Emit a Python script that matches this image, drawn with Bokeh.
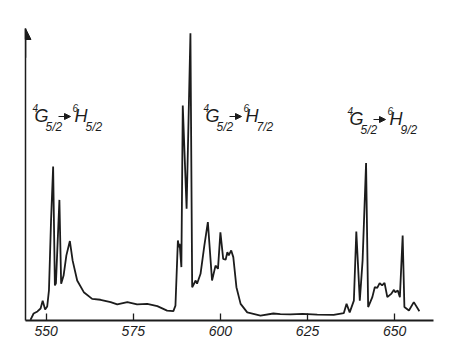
from bokeh.plotting import figure
from bokeh.models import Range1d, FixedTicker, Label, Arrow, NormalHead
from bokeh.embed import file_html
from bokeh.resources import INLINE

# ---- data (wavelength in nm, relative intensity) ----
wavelength_nm = [545.5, 546.4, 547.5, 548.4, 549.0, 549.7, 550.3, 550.8, 551.4, 552.0,
                 552.5, 552.8, 553.8, 554.3, 555.0, 555.8, 556.8, 557.6, 558.9, 560.8,
                 563.2, 565.6, 568.5, 570.4, 573.3, 576.1, 579.0, 581.9, 584.7, 586.5,
                 587.1, 587.8, 588.1, 588.3, 588.8, 589.2, 590.3, 591.4, 591.9, 592.9,
                 593.3, 594.3, 595.4, 596.4, 597.6, 598.6, 599.3, 600.0, 600.8, 601.5,
                 602.0, 602.4, 603.1, 603.7, 604.6, 605.8, 607.7, 611.5, 615.2, 617.2,
                 620.1, 623.6, 627.8, 632.5, 635.4, 636.2, 637.1, 638.3, 639.0, 640.0,
                 640.8, 641.8, 642.4, 643.6, 644.3, 645.0, 645.7, 646.4, 647.1, 647.9,
                 649.0, 649.8, 650.2, 650.9, 651.5, 652.3, 652.8, 654.1, 655.5, 657.1]
intensity = [0.2, 2.4, 3.1, 4.1, 6.8, 3.8, 4.8, 10.3, 34.2, 52.7,
             12.0, 12.7, 41.3, 12.6, 15.4, 22.3, 27.2, 20.5, 13.7, 9.7,
             7.4, 7.1, 6.3, 5.5, 6.3, 5.5, 5.7, 4.9, 3.4, 3.2,
             5.1, 27.4, 25.1, 26.3, 18.3, 73.6, 38.3, 98.4, 11.4, 13.7,
             12.6, 16.0, 25.7, 33.7, 13.7, 18.8, 17.7, 30.2, 21.1, 20.8,
             23.4, 22.3, 24.0, 21.7, 11.4, 5.7, 2.8, 1.7, 2.4, 2.2,
             2.1, 2.3, 2.0, 1.9, 2.5, 5.7, 2.8, 6.8, 30.5, 6.8,
             20.5, 53.9, 4.6, 8.0, 11.4, 11.2, 12.8, 12.0, 12.9, 8.0,
             9.1, 10.5, 9.7, 10.3, 8.0, 29.1, 4.6, 3.4, 6.3, 3.2]
tick_values = [550, 575, 600, 625, 650]
y_axis_title = "J"
x_axis_title = "\u03bb,nm"
transitions = [("4", "G", "5/2", "6", "H", "5/2"),
               ("4", "G", "5/2", "6", "H", "7/2"),
               ("4", "G", "5/2", "6", "H", "9/2")]

# ---- layout ----
W, H = 472, 364
LEFT, RIGHT, TOP, BOTTOM = 25, 39, 28, 44
X0, X1 = 544.07, 661.15
Y0, Y1 = 0.0, 100.0
INK = "#1c1c1c"
FONT = "Liberation Sans"

p = figure(width=W, height=H, output_backend="svg", toolbar_location=None,
           x_range=Range1d(X0, X1), y_range=Range1d(Y0, Y1),
           min_border_left=LEFT, min_border_right=RIGHT,
           min_border_top=TOP, min_border_bottom=BOTTOM)
p.outline_line_color = None
p.grid.visible = False
p.background_fill_color = "white"
p.border_fill_color = "white"


def dx(px):
    return X0 + (px - LEFT) * (X1 - X0) / (W - LEFT - RIGHT)


def dy(py):
    return Y0 + (H - BOTTOM - py) * (Y1 - Y0) / (H - TOP - BOTTOM)


# x axis
xa = p.xaxis[0]
xa.ticker = FixedTicker(ticks=tick_values)
xa.axis_line_width = 2.2
xa.axis_line_color = INK
xa.major_tick_in = 7
xa.major_tick_out = 0
xa.major_tick_line_width = 1.3
xa.major_tick_line_color = INK
xa.minor_tick_line_color = None
xa.major_label_text_font = FONT
xa.major_label_text_font_style = "italic"
xa.major_label_text_font_size = "14px"
xa.major_label_text_color = INK
xa.major_label_standoff = 5

# y axis (bare line with arrow)
ya = p.yaxis[0]
ya.ticker = FixedTicker(ticks=[])
ya.axis_line_width = 1.5
ya.axis_line_color = INK
ya.major_tick_line_color = None
ya.minor_tick_line_color = None
ya.major_label_text_font_size = "0px"

p.add_layout(Arrow(end=NormalHead(size=11, fill_color=INK, line_color=INK, line_width=1),
                   x_start=X0, y_start=90, x_end=X0, y_end=Y1,
                   line_color=INK, line_width=1.5))

# spectrum
p.line(wavelength_nm, intensity, line_width=1.8, line_color=INK)

# axis titles
p.add_layout(Label(x=dx(15), y=dy(33), text=y_axis_title, text_font=FONT,
                   text_font_size="15px", text_align="center", text_baseline="middle",
                   text_color=INK))
p.add_layout(Label(x=dx(407), y=dy(332), text=x_axis_title, text_font=FONT,
                   text_font_size="14px", text_align="left", text_baseline="middle",
                   text_color=INK))

SHIFT = 7  # labels render lower than their alphabetic baseline; compensate


def add_term(x, yb, sup, letter, sub):
    yb = yb - SHIFT
    p.add_layout(Label(x=dx(x), y=dy(yb - 8), text=sup, text_font=FONT,
                       text_font_size="10px", text_font_style="italic",
                       text_baseline="alphabetic", text_color=INK))
    p.add_layout(Label(x=dx(x + 2), y=dy(yb), text=letter, text_font=FONT,
                       text_font_size="18px", text_font_style="italic",
                       text_baseline="alphabetic", text_color=INK))
    p.add_layout(Label(x=dx(x + 13), y=dy(yb + 11), text=sub, text_font=FONT,
                       text_font_size="12px", text_font_style="italic",
                       text_baseline="alphabetic", text_color=INK))


anchors = [(32, 122), (203, 122), (347, 125)]
for (x0, yb), (s1, l1, b1, s2, l2, b2) in zip(anchors, transitions):
    add_term(x0, yb, s1, l1, b1)
    p.add_layout(Arrow(end=NormalHead(size=6, fill_color=INK, line_color=INK, line_width=1),
                       x_start=dx(x0 + 26), y_start=dy(yb - 6),
                       x_end=dx(x0 + 38), y_end=dy(yb - 6),
                       line_color=INK, line_width=1.2))
    add_term(x0 + 40, yb, s2, l2, b2)

open("out.html", "w").write(file_html(p, INLINE))
